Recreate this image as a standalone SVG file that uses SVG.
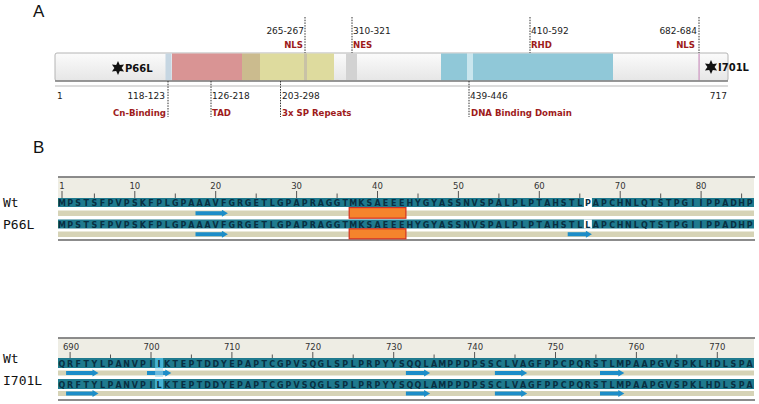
<svg xmlns="http://www.w3.org/2000/svg" width="759" height="404" viewBox="0 0 759 404">
<style>
.panel{font-family:"Liberation Sans",Arial,sans-serif;font-size:17px;fill:#111}
.num{font-family:"DejaVu Sans",Verdana,sans-serif;font-size:9px;fill:#222}
.red{font-family:"DejaVu Sans",Verdana,sans-serif;font-size:8.6px;font-weight:bold;fill:#9e1b1b}
.mut{font-family:"DejaVu Sans",Verdana,sans-serif;font-size:10px;font-weight:bold;fill:#111}
.lead{stroke:#333;stroke-width:1;stroke-dasharray:1.5 1.2;fill:none}
.rowlbl{font-family:"DejaVu Sans Mono","Liberation Mono",monospace;font-size:13px;fill:#111}
.hdr{fill:#eeede4}
.frame{stroke:#666;stroke-width:1.3}
.teal{fill:#1f7a8e}
.tan{fill:#d6d3b6}
.seq{font-family:"DejaVu Sans",Verdana,sans-serif;font-size:8px;font-weight:bold;fill:#082f42;text-anchor:middle}
.rl{font-family:"DejaVu Sans",Verdana,sans-serif;font-size:8.5px;fill:#333;text-anchor:middle}
.tick{stroke:#444;stroke-width:0.9}
.arr{fill:#1c8dc8}
.orange{fill:#f5842c;stroke:#d4301f;stroke-width:1.2}
</style>
<defs>
<linearGradient id="barG" x1="0" y1="0" x2="0" y2="1">
<stop offset="0" stop-color="#fbfbfb"/><stop offset="1" stop-color="#e6e6e6"/>
</linearGradient>
<polygon id="star" points="0,-7 1.8,-3.12 6.06,-3.5 3.6,0 6.06,3.5 1.8,3.12 0,7 -1.8,3.12 -6.06,3.5 -3.6,0 -6.06,-3.5 -1.8,-3.12" fill="#111"/>
</defs>
<rect width="759" height="404" fill="#ffffff"/>

<text class="panel" x="33" y="17">A</text>
<text class="panel" x="33" y="153">B</text>

<g id="protein">
<rect x="55" y="53" width="673" height="28" rx="2" fill="url(#barG)" stroke="#b4b4b4"/>
<rect x="165.5" y="53.5" width="6" height="27" fill="#c6d6e2"/>
<rect x="172" y="53.5" width="70" height="27" fill="#d99494"/>
<rect x="242" y="53.5" width="18" height="27" fill="#cbbb8e"/>
<rect x="260" y="53.5" width="74" height="27" fill="#dedb9e"/>
<rect x="304" y="53.5" width="3" height="27" fill="#c9c2a6"/>
<rect x="346" y="53.5" width="11" height="27" fill="#d2d2d2"/>
<rect x="441" y="53.5" width="26" height="27" fill="#90c8d8"/>
<rect x="467" y="53.5" width="6" height="27" fill="#c9e6ee"/>
<rect x="473" y="53.5" width="140" height="27" fill="#90c8d8"/>
<rect x="698.3" y="53.5" width="1.6" height="27" fill="#d4aacb"/>
<line x1="55" y1="81" x2="728" y2="81" stroke="#808080" stroke-width="1.3"/>
<line x1="55" y1="86" x2="728" y2="86" stroke="#dcdcdc" stroke-width="2"/>
</g>

<g id="mutations-A">
<use href="#star" x="118" y="68"/>
<text class="mut" x="125" y="72">P66L</text>
<use href="#star" x="711" y="67"/>
<text class="mut" x="718" y="71">I701L</text>
</g>

<g id="connectors">
<line class="lead" x1="168" y1="81" x2="168" y2="117"/>
<line class="lead" x1="211" y1="81" x2="211" y2="117"/>
<line class="lead" x1="280.5" y1="81" x2="280.5" y2="117"/>
<line class="lead" x1="469" y1="81" x2="469" y2="117"/>
<line class="lead" x1="305" y1="17" x2="305" y2="53"/>
<line class="lead" x1="352" y1="17" x2="352" y2="53"/>
<line class="lead" x1="530" y1="17" x2="530" y2="53"/>
<line class="lead" x1="699" y1="17" x2="699" y2="53"/>
</g>

<g id="labels-bottom">
<text class="num" x="57" y="99">1</text>
<text class="num" x="165" y="99" text-anchor="end">118-123</text>
<text class="red" x="166" y="116" text-anchor="end">Cn-Binding</text>
<text class="num" x="212" y="99">126-218</text>
<text class="red" x="212" y="116">TAD</text>
<text class="num" x="282" y="99">203-298</text>
<text class="red" x="282" y="116">3x SP Repeats</text>
<text class="num" x="470" y="99">439-446</text>
<text class="red" x="471" y="116">DNA Binding Domain</text>
<text class="num" x="727" y="99" text-anchor="end">717</text>
</g>

<g id="labels-top">
<text class="num" x="304" y="34" text-anchor="end">265-267</text>
<text class="red" x="303" y="48" text-anchor="end">NLS</text>
<text class="num" x="353" y="34">310-321</text>
<text class="red" x="353" y="48">NES</text>
<text class="num" x="531" y="34">410-592</text>
<text class="red" x="531" y="48">RHD</text>
<text class="num" x="697" y="34" text-anchor="end">682-684</text>
<text class="red" x="695" y="48" text-anchor="end">NLS</text>
</g>

<g id="viewer1">
<rect class="hdr" x="58" y="177.5" width="696" height="20.5"/>
<line class="frame" x1="58" y1="177" x2="755" y2="177"/>
<g class="rl">
<text x="62" y="189">1</text><text x="134.8" y="189">10</text><text x="215.7" y="189">20</text><text x="296.6" y="189">30</text><text x="377.5" y="189">40</text><text x="458.4" y="189">50</text><text x="539.3" y="189">60</text><text x="620.2" y="189">70</text><text x="701.1" y="189">80</text>
</g>
<path class="tick" d="M62,191V198M134.8,191V198M215.7,191V198M296.6,191V198M377.5,191V198M458.4,191V198M539.3,191V198M620.2,191V198M701.1,191V198M94.4,193.5V198M175.3,193.5V198M256.2,193.5V198M337.1,193.5V198M418,193.5V198M498.9,193.5V198M579.8,193.5V198M660.7,193.5V198M741.6,193.5V198"/>
<rect class="teal" x="58" y="198" width="696" height="9"/>
<rect x="583.9" y="198" width="8" height="9" fill="#ffffff"/>
<rect class="tan" x="58" y="210.5" width="696" height="5.5"/>
<rect class="teal" x="58" y="219.5" width="696" height="9"/>
<rect x="583.9" y="219.5" width="8" height="9" fill="#ffffff"/>
<rect class="tan" x="58" y="231.5" width="696" height="5.5"/>
<line class="frame" x1="58" y1="240" x2="755" y2="240"/>
<rect class="orange" x="349.2" y="207.6" width="56.7" height="10.6"/>
<rect class="orange" x="349.2" y="228.8" width="56.7" height="10"/>
<path class="arr" d="M195.5,211.25H221.9V209.75L227.9,213.25L221.9,216.75V215.25H195.5Z"/>
<path class="arr" d="M195.5,232.25H221.9V230.75L227.9,234.25L221.9,237.75V236.25H195.5Z"/>
<path class="arr" d="M567.7,232.25H585.9V230.75L591.9,234.25L585.9,237.75V236.25H567.7Z"/>
<text class="seq" y="206" x="62 70.1 78.2 86.3 94.4 102.5 110.5 118.6 126.7 134.8 142.9 151 159.1 167.2 175.3 183.4 191.4 199.5 207.6 215.7 223.8 231.9 240 248.1 256.2 264.3 272.3 280.4 288.5 296.6 304.7 312.8 320.9 329 337.1 345.2 353.2 361.3 369.4 377.5 385.6 393.7 401.8 409.9 418 426.1 434.1 442.2 450.3 458.4 466.5 474.6 482.7 490.8 498.9 507 515 523.1 531.2 539.3 547.4 555.5 563.6 571.7 579.8 587.9 595.9 604 612.1 620.2 628.3 636.4 644.5 652.6 660.7 668.8 676.8 684.9 693 701.1 709.2 717.3 725.4 733.5 741.6 749.7">MPSTSFPVPSKFPLGPAAAVFGRGETLGPAPRAGGTMKSAEEEHYGYASSNVSPALPLPTAHSTLPAPCHNLQTSTPGIIPPADHP</text>
<text class="seq" y="227.5" x="62 70.1 78.2 86.3 94.4 102.5 110.5 118.6 126.7 134.8 142.9 151 159.1 167.2 175.3 183.4 191.4 199.5 207.6 215.7 223.8 231.9 240 248.1 256.2 264.3 272.3 280.4 288.5 296.6 304.7 312.8 320.9 329 337.1 345.2 353.2 361.3 369.4 377.5 385.6 393.7 401.8 409.9 418 426.1 434.1 442.2 450.3 458.4 466.5 474.6 482.7 490.8 498.9 507 515 523.1 531.2 539.3 547.4 555.5 563.6 571.7 579.8 587.9 595.9 604 612.1 620.2 628.3 636.4 644.5 652.6 660.7 668.8 676.8 684.9 693 701.1 709.2 717.3 725.4 733.5 741.6 749.7">MPSTSFPVPSKFPLGPAAAVFGRGETLGPAPRAGGTMKSAEEEHYGYASSNVSPALPLPTAHSTLLAPCHNLQTSTPGIIPPADHP</text>
<text class="rowlbl" x="3" y="207">Wt</text>
<text class="rowlbl" x="3" y="229">P66L</text>
</g>

<g id="viewer2">
<rect class="hdr" x="58" y="338.5" width="696" height="19.5"/>
<line class="frame" x1="58" y1="338" x2="755" y2="338"/>
<g class="rl">
<text x="71" y="350">690</text><text x="151.5" y="350">700</text><text x="232" y="350">710</text><text x="313" y="350">720</text><text x="394" y="350">730</text><text x="475" y="350">740</text><text x="555.5" y="350">750</text><text x="636.4" y="350">760</text><text x="717.3" y="350">770</text>
</g>
<path class="tick" d="M70.1,352V358M151,352V358M231.9,352V358M312.8,352V358M393.7,352V358M474.6,352V358M555.5,352V358M636.4,352V358M717.3,352V358M110.5,354.5V358M191.4,354.5V358M272.3,354.5V358M353.2,354.5V358M434.1,354.5V358M515,354.5V358M595.9,354.5V358M676.8,354.5V358"/>
<rect class="teal" x="58" y="358" width="696" height="10"/>
<rect class="tan" x="58" y="370.5" width="696" height="5"/>
<rect class="teal" x="58" y="379" width="696" height="10"/>
<rect class="tan" x="58" y="391" width="696" height="5"/>
<line class="frame" x1="58" y1="400" x2="755" y2="400"/>
<path class="arr" d="M66.1,371H92.5V369.5L98.5,373L92.5,376.5V375H66.1Z"/>
<path class="arr" d="M147,371H165.3V369.5L171.3,373L165.3,376.5V375H147Z"/>
<path class="arr" d="M405.9,371H424.1V369.5L430.1,373L424.1,376.5V375H405.9Z"/>
<path class="arr" d="M494.9,371H521.2V369.5L527.2,373L521.2,376.5V375H494.9Z"/>
<path class="arr" d="M600,371H618.3V369.5L624.3,373L618.3,376.5V375H600Z"/>
<path class="arr" d="M66.1,391.5H92.5V390L98.5,393.5L92.5,397V395.5H66.1Z"/>
<path class="arr" d="M405.9,391.5H424.1V390L430.1,393.5L424.1,397V395.5H405.9Z"/>
<path class="arr" d="M494.9,391.5H521.2V390L527.2,393.5L521.2,397V395.5H494.9Z"/>
<path class="arr" d="M600,391.5H618.3V390L624.3,393.5L618.3,397V395.5H600Z"/>
<rect x="155.1" y="358" width="8" height="10" fill="#45b3d4"/>
<rect x="155.1" y="368" width="8" height="9" fill="#9fd8ec" opacity="0.6"/>
<rect x="155.1" y="379" width="8" height="10" fill="#45b3d4"/>
<text class="seq" y="366.5" x="62 70.1 78.2 86.3 94.4 102.5 110.5 118.6 126.7 134.8 142.9 151 159.1 167.2 175.3 183.4 191.4 199.5 207.6 215.7 223.8 231.9 240 248.1 256.2 264.3 272.3 280.4 288.5 296.6 304.7 312.8 320.9 329 337.1 345.2 353.2 361.3 369.4 377.5 385.6 393.7 401.8 409.9 418 426.1 434.1 442.2 450.3 458.4 466.5 474.6 482.7 490.8 498.9 507 515 523.1 531.2 539.3 547.4 555.5 563.6 571.7 579.8 587.9 595.9 604 612.1 620.2 628.3 636.4 644.5 652.6 660.7 668.8 676.8 684.9 693 701.1 709.2 717.3 725.4 733.5 741.6 749.7">QRFTYLPANVPIIKTEPTDDYEPAPTCGPVSQGLSPLPRPYYSQQLAMPPDPSSCLVAGFPPCPQRSTLMPAAPGVSPKLHDLSPA</text>
<text class="seq" y="387.5" x="62 70.1 78.2 86.3 94.4 102.5 110.5 118.6 126.7 134.8 142.9 151 159.1 167.2 175.3 183.4 191.4 199.5 207.6 215.7 223.8 231.9 240 248.1 256.2 264.3 272.3 280.4 288.5 296.6 304.7 312.8 320.9 329 337.1 345.2 353.2 361.3 369.4 377.5 385.6 393.7 401.8 409.9 418 426.1 434.1 442.2 450.3 458.4 466.5 474.6 482.7 490.8 498.9 507 515 523.1 531.2 539.3 547.4 555.5 563.6 571.7 579.8 587.9 595.9 604 612.1 620.2 628.3 636.4 644.5 652.6 660.7 668.8 676.8 684.9 693 701.1 709.2 717.3 725.4 733.5 741.6 749.7">QRFTYLPANVPILKTEPTDDYEPAPTCGPVSQGLSPLPRPYYSQQLAMPPDPSSCLVAGFPPCPQRSTLMPAAPGVSPKLHDLSPA</text>
<text class="rowlbl" x="3" y="363">Wt</text>
<text class="rowlbl" x="3" y="385">I701L</text>
</g>
</svg>
